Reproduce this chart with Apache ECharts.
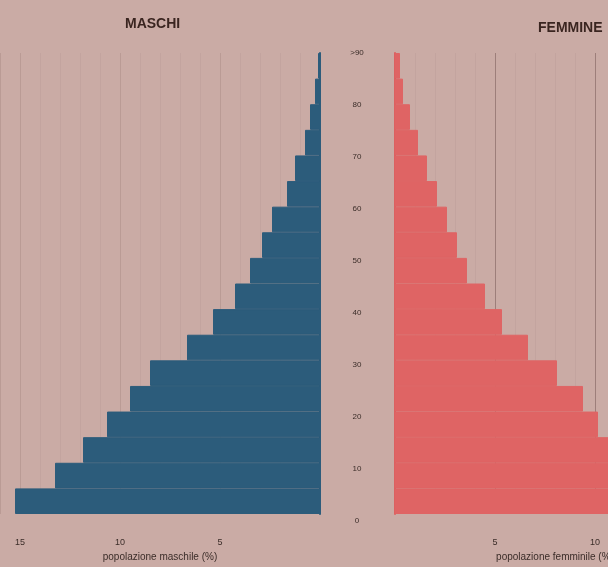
<!DOCTYPE html>
<html><head><meta charset="utf-8">
<script src="https://cdn.jsdelivr.net/npm/echarts@6/dist/echarts.min.js"></script>
<style>
html,body{margin:0;padding:0;overflow:hidden;background:#caaba5;width:608px;height:567px}
#c{width:720px;height:567px}
</style>
</head><body><div id="c"></div>
<script>
var ageGroups = ['0-4','5-9','10-14','15-19','20-24','25-29','30-34','35-39','40-44','45-49','50-54','55-59','60-64','65-69','70-74','75-79','80-84','85-89'];
var maleValues = [15.25,13.25,11.85,10.65,9.5,8.5,6.65,5.35,4.25,3.5,2.9,2.4,1.65,1.25,0.75,0.5,0.25,0.1];
var femaleValues = [15.2,13.1,11.7,10.15,9.4,8.1,6.65,5.35,4.5,3.6,3.1,2.6,2.1,1.6,1.15,0.75,0.4,0.25];
var ageTickLabels = {0:'0',10:'10',20:'20',30:'30',40:'40',50:'50',60:'60',70:'70',80:'80',90:'>90'};
var titleMale = 'MASCHI';
var titleFemale = 'FEMMINE';
var axisNameMale = 'popolazione maschile (%)';
var axisNameFemale = 'popolazione femminile (%)';

var txt = '#3b2d29';
var maleColor = '#2c5c7b';
var femaleColor = '#df6464';
function valueAxis(idx, inverse, name, gridCol){
  return {
    type:'value', gridIndex:idx, min:0, max:16, interval:5, inverse:inverse,
    name:name, nameLocation:'middle', nameGap:38,
    nameTextStyle:{fontSize:10,color:txt,fontFamily:'Liberation Sans'},
    axisLine:{show:false}, axisTick:{show:false},
    axisLabel:{fontSize:9,color:txt,margin:24,showMaxLabel:false,
      formatter:function(v){return v===0?'':String(v);}},
    splitLine:{show:true,lineStyle:{color:gridCol,width:1}},
    minorTick:{show:false,splitNumber:5},
    minorSplitLine:{show:true,lineStyle:{color:'rgba(150,118,112,0.12)',width:1}}
  };
}
function catAxis(idx, pos, col){
  return {
    type:'category', gridIndex:idx, data:ageGroups, position:pos,
    axisLine:{show:true,lineStyle:{color:col,width:2}},
    axisTick:{show:false}, axisLabel:{show:false},
    splitLine:{show:false}
  };
}
var chart = echarts.init(document.getElementById('c'), null, {renderer:'canvas'});
chart.setOption({
  backgroundColor:'#caaba5',
  animation:false,
  title:[
    {text:titleMale,left:120,top:12,textStyle:{fontSize:14,fontWeight:'bold',color:'#3a2520',fontFamily:'Liberation Sans'}},
    {text:titleFemale,left:533,top:16,textStyle:{fontSize:14,fontWeight:'bold',color:'#3a2520',fontFamily:'Liberation Sans'}}
  ],
  grid:[
    {left:0,top:53,width:320,height:468},
    {left:395,top:53,width:320,height:468},
    {left:357,top:53,width:1,height:468}
  ],
  xAxis:[
    valueAxis(0,true,axisNameMale,'rgba(150,118,112,0.3)'),
    valueAxis(1,false,axisNameFemale,'rgba(120,90,88,0.55)'),
    {type:'value',gridIndex:2,show:false}
  ],
  yAxis:[
    catAxis(0,'right','#2d5c7b'),
    catAxis(1,'left','#dc6060'),
    {type:'value',gridIndex:2,min:0,max:90,interval:10,
     axisLine:{show:false},axisTick:{show:false},splitLine:{show:false},
     axisLabel:{fontSize:8,color:txt,margin:0,align:'center',
       formatter:function(v){return ageTickLabels[v]!==undefined?ageTickLabels[v]:'';}}}
  ],
  series:[
    {type:'bar',xAxisIndex:0,yAxisIndex:0,data:maleValues,barCategoryGap:'0%',
     itemStyle:{color:maleColor,borderColor:maleColor,borderWidth:1}},
    {type:'bar',xAxisIndex:1,yAxisIndex:1,data:femaleValues,barCategoryGap:'0%',
     itemStyle:{color:femaleColor,borderColor:femaleColor,borderWidth:1}}
  ]
});
</script></body></html>
